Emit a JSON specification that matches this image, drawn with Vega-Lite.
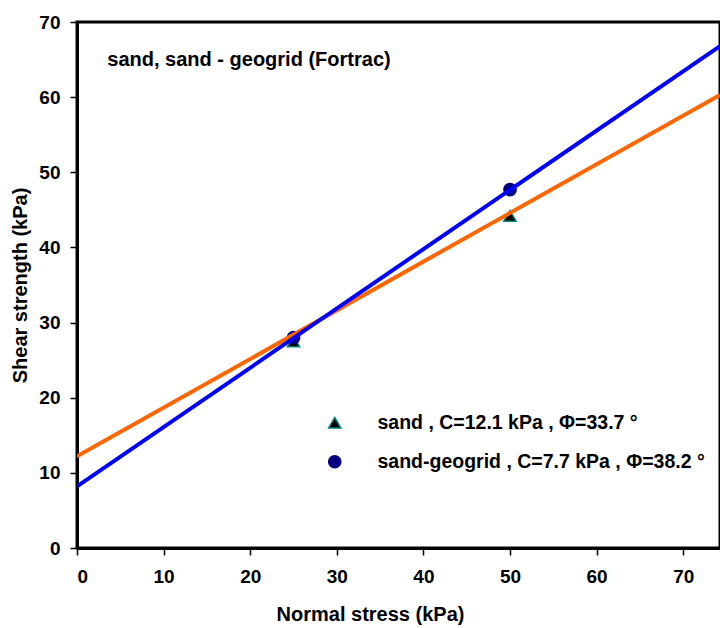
{
  "$schema": "https://vega.github.io/schema/vega-lite/v6.json",
  "autosize": "none",
  "width": 643,
  "height": 526,
  "padding": {"left": 77, "top": 22, "right": 0, "bottom": 80},
  "background": "white",
  "config": {
    "font": "Liberation Sans",
    "view": {"stroke": "black", "strokeWidth": 3},
    "axis": {
      "grid": false,
      "domainColor": "black",
      "domainWidth": 3,
      "tickColor": "black",
      "tickWidth": 1.5,
      "tickSize": 7,
      "labelFont": "Liberation Sans",
      "labelFontSize": 19,
      "labelFontWeight": "bold",
      "labelColor": "black",
      "titleFont": "Liberation Sans",
      "titleFontSize": 20,
      "titleFontWeight": "bold",
      "titleColor": "black"
    }
  },
  "datasets": {
    "lines": [
      {"line": "sand", "x": 0, "y": 12.2},
      {"line": "sand", "x": 74.25, "y": 60.3},
      {"line": "sand-geogrid", "x": 0, "y": 8.2},
      {"line": "sand-geogrid", "x": 74.25, "y": 66.8}
    ],
    "points": [
      {"series": "sand , C=12.1 kPa , Φ=33.7 °", "x": 25, "y": 27.5},
      {"series": "sand , C=12.1 kPa , Φ=33.7 °", "x": 50, "y": 44.2},
      {"series": "sand-geogrid , C=7.7 kPa , Φ=38.2 °", "x": 25, "y": 28.0},
      {"series": "sand-geogrid , C=7.7 kPa , Φ=38.2 °", "x": 50, "y": 47.7}
    ],
    "note": [
      {"x": 3.5, "y": 65, "text": "sand, sand - geogrid (Fortrac)"}
    ]
  },
  "layer": [
    {
      "data": {"name": "points"},
      "mark": {"type": "point", "filled": true, "size": 150, "strokeWidth": 1.5, "opacity": 1},
      "encoding": {
        "x": {
          "field": "x", "type": "quantitative",
          "scale": {"domain": [0, 74.25], "nice": false},
          "axis": {"values": [0, 10, 20, 30, 40, 50, 60, 70], "title": "Normal stress (kPa)", "labelPadding": 12, "titleX": 293, "titleY": 56, "titleAnchor": null}
        },
        "y": {
          "field": "y", "type": "quantitative",
          "scale": {"domain": [0, 70], "nice": false},
          "axis": {"values": [0, 10, 20, 30, 40, 50, 60, 70], "title": "Shear strength (kPa)", "labelPadding": 10, "titleX": -57, "titleY": 263, "titleAngle": -90, "titleAlign": "center", "titleBaseline": "middle"}
        },
        "shape": {
          "field": "series", "type": "nominal",
          "scale": {"domain": ["sand , C=12.1 kPa , Φ=33.7 °", "sand-geogrid , C=7.7 kPa , Φ=38.2 °"], "range": ["triangle-up", "circle"]},
          "legend": {
            "orient": "none", "legendX": 248, "legendY": 391, "title": null,
            "labelFont": "Liberation Sans", "labelFontSize": 19.5, "labelFontWeight": "bold", "labelColor": "black",
            "labelOffset": 33, "rowPadding": 18, "symbolSize": 150, "symbolStrokeWidth": 1.5, "labelLimit": 450
          }
        },
        "fill": {
          "field": "series", "type": "nominal",
          "scale": {"domain": ["sand , C=12.1 kPa , Φ=33.7 °", "sand-geogrid , C=7.7 kPa , Φ=38.2 °"], "range": ["#000000", "#000080"]}
        },
        "stroke": {
          "field": "series", "type": "nominal",
          "scale": {"domain": ["sand , C=12.1 kPa , Φ=33.7 °", "sand-geogrid , C=7.7 kPa , Φ=38.2 °"], "range": ["#008080", "#000080"]}
        }
      }
    },
    {
      "data": {"name": "lines"},
      "mark": {"type": "line", "strokeWidth": 4, "clip": true},
      "encoding": {
        "x": {"field": "x", "type": "quantitative"},
        "y": {"field": "y", "type": "quantitative"},
        "color": {
          "field": "line", "type": "nominal",
          "scale": {"domain": ["sand", "sand-geogrid"], "range": ["#FF6600", "#0000FF"]},
          "legend": null
        }
      }
    },
    {
      "data": {"name": "note"},
      "mark": {"type": "text", "align": "left", "baseline": "middle", "font": "Liberation Sans", "fontSize": 20, "fontWeight": "bold", "color": "black"},
      "encoding": {
        "x": {"field": "x", "type": "quantitative"},
        "y": {"field": "y", "type": "quantitative"},
        "text": {"field": "text"}
      }
    }
  ]
}
